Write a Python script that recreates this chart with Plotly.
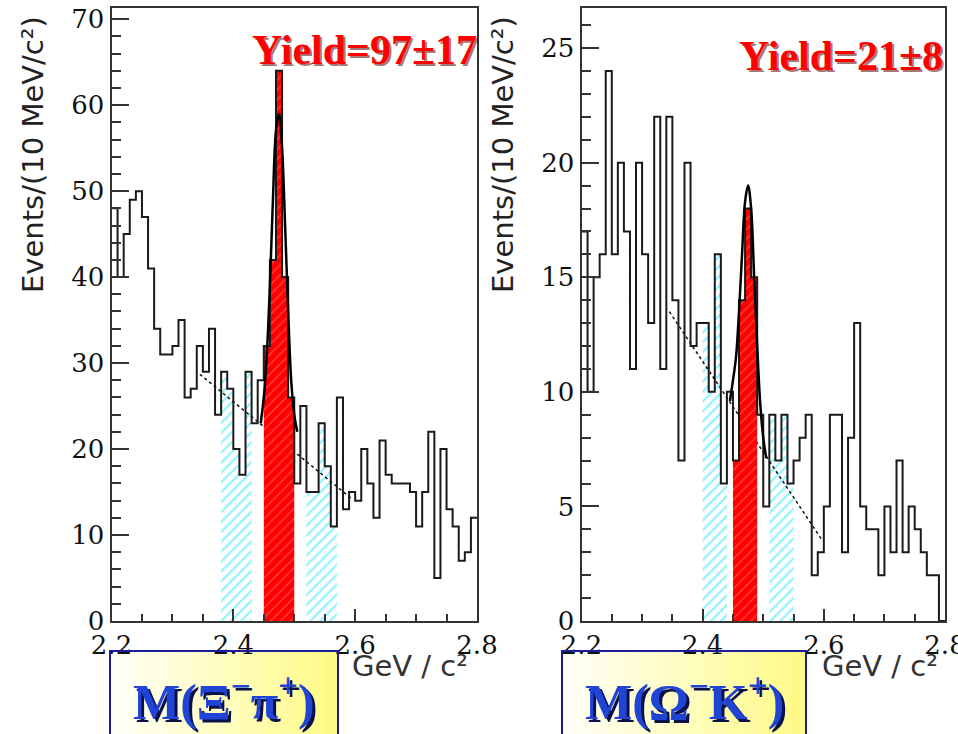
import plotly.graph_objects as go

# ---------------- data (10 MeV bins from 2.20 to 2.80 GeV/c^2) ----------------
BIN_LO = 2.20
BIN_W = 0.01
N_BINS = 60
bin_lo = [round(BIN_LO + i * BIN_W, 4) for i in range(N_BINS)]

xi_pi_counts = [48, 40, 45, 49, 50, 47, 41, 34, 31, 31,
                32, 35, 26, 27, 32, 29, 34, 24, 29, 27,
                20, 17, 29, 23, 28, 32, 42, 64, 40, 26,
                16, 25, 15, 15, 23, 18, 11, 26, 13, 15,
                14, 20, 16, 12, 21, 17, 16, 16, 16, 15,
                11, 15, 22, 5, 20, 13, 11, 7, 8, 12]

omega_k_counts = [17, 10, 15, 16, 24, 16, 20, 17, 11, 20,
                  16, 13, 22, 11, 22, 14, 7, 20, 12, 13,
                  13, 10, 16, 6, 10, 7, 14, 18, 15, 9,
                  5, 9, 7, 9, 6, 7, 8, 9, 2, 3,
                  5, 9, 9, 3, 8, 13, 5, 4, 4, 2,
                  5, 3, 7, 3, 5, 4, 3, 2, 2, 0]

xi_signal = (2.45, 2.50)
xi_sidebands = [(2.38, 2.43), (2.52, 2.57)]
om_signal = (2.45, 2.49)
om_sidebands = [(2.40, 2.44), (2.51, 2.55)]

# fitted background lines (end points)
xi_bkg_x = [2.345, 2.593]
xi_bkg_y = [28.7, 14.3]
om_bkg_x = [2.345, 2.598]
om_bkg_y = [13.5, 3.5]

# fitted peak curves
xi_fit_x = [2.445, 2.450, 2.455, 2.460, 2.465, 2.470, 2.475, 2.480, 2.485, 2.490, 2.495, 2.500, 2.505]
xi_fit_y = [23, 26, 31, 39, 49, 57, 59, 55, 46, 36, 28, 24, 22]
om_fit_x = [2.445, 2.450, 2.455, 2.460, 2.465, 2.470, 2.475, 2.480, 2.485, 2.490, 2.495, 2.500, 2.505]
om_fit_y = [9.6, 10.5, 11.5, 13.5, 16.0, 18.3, 19.0, 18.0, 15.0, 12.0, 9.5, 8.0, 7.1]

yields = ["Yield=97±17", "Yield=21±8"]
box_labels = ["M(Ξ<sup>−</sup>π<sup>+</sup>)", "M(Ω<sup>−</sup>K<sup>+</sup>)"]
y_title = "Events/(10 MeV/c²)"
x_unit = "GeV / c²"

# ---------------- helpers ----------------
W, H = 958, 734


def px(x):
    return x / W


def py(y):
    return 1 - y / H


def step_xy(lo_list, vals):
    xs = list(lo_list) + [round(lo_list[-1] + BIN_W, 4)]
    ys = list(vals) + [vals[-1]]
    return xs, ys


def region(counts, a, b):
    lo, v = [], []
    for x0, c in zip(bin_lo, counts):
        if x0 >= a - 1e-9 and x0 + BIN_W <= b + 1e-9:
            lo.append(x0)
            v.append(c)
    return lo, v


fig = go.Figure()

panels = [
    dict(counts=xi_pi_counts, sig=xi_signal, sbs=xi_sidebands, bx=xi_bkg_x, by=xi_bkg_y,
         fx=xi_fit_x, fy=xi_fit_y, xa="x", ya="y"),
    dict(counts=omega_k_counts, sig=om_signal, sbs=om_sidebands, bx=om_bkg_x, by=om_bkg_y,
         fx=om_fit_x, fy=om_fit_y, xa="x2", ya="y2"),
]

for p in panels:
    for a, b in p["sbs"]:
        lo, v = region(p["counts"], a, b)
        xs, ys = step_xy(lo, v)
        fig.add_trace(go.Scatter(
            x=xs, y=ys, mode="lines", line=dict(width=0, shape="hv"),
            fill="tozeroy", fillcolor="rgba(255,255,255,0)",
            fillpattern=dict(shape="/", fgcolor="#18e4ff", bgcolor="white", size=7, solidity=0.3),
            xaxis=p["xa"], yaxis=p["ya"], showlegend=False, hoverinfo="skip"))
    fig.add_trace(go.Scatter(
        x=p["bx"], y=p["by"], mode="lines", line=dict(color="#111", width=1.5, dash="dot"),
        xaxis=p["xa"], yaxis=p["ya"], showlegend=False, hoverinfo="skip"))
    lo, v = region(p["counts"], *p["sig"])
    xs, ys = step_xy(lo, v)
    fig.add_trace(go.Scatter(
        x=xs, y=ys, mode="lines", line=dict(width=0, shape="hv"),
        fill="tozeroy", fillcolor="#ff0000",
        fillpattern=dict(shape="/", fgcolor="#ff8a8a", bgcolor="#ff0000", size=7, solidity=0.18),
        xaxis=p["xa"], yaxis=p["ya"], showlegend=False, hoverinfo="skip"))
    xs, ys = step_xy(bin_lo, p["counts"])
    fig.add_trace(go.Scatter(
        x=xs, y=ys, mode="lines", line=dict(color="#1a1a1a", width=2, shape="hv"),
        xaxis=p["xa"], yaxis=p["ya"], showlegend=False, hoverinfo="skip"))
    fig.add_trace(go.Scatter(
        x=p["fx"], y=p["fy"], mode="lines", line=dict(color="#000", width=2.5, shape="spline"),
        xaxis=p["xa"], yaxis=p["ya"], showlegend=False, hoverinfo="skip"))

tick_font = dict(family="DejaVu Serif", size=26, color="#111")
x_common = dict(range=[2.2, 2.8], tickmode="array", tickvals=[2.2, 2.4, 2.6, 2.8],
                ticktext=["2.2", "2.4", "2.6", "2.8"], ticks="inside", ticklen=12,
                tickwidth=1.5, tickcolor="#333", ticklabeloverflow="allow",
                minor=dict(ticks="inside", tickmode="linear", tick0=2.2, dtick=0.05,
                           ticklen=7, tickwidth=1.5, tickcolor="#333"),
                showline=True, linecolor="#333", linewidth=2, mirror=True, automargin=False,
                showgrid=False, zeroline=False, tickfont=tick_font, fixedrange=True)
y_common = dict(ticks="inside", tickwidth=1.5, tickcolor="#333", automargin=False,
                showline=True, linecolor="#333", linewidth=2, mirror=True,
                showgrid=False, zeroline=False, tickfont=tick_font, fixedrange=True)

ydom = [py(621), py(8)]
fig.update_layout(
    width=W, height=H, autosize=False, margin=dict(l=0, r=0, t=0, b=0, pad=0, autoexpand=False),
    paper_bgcolor="white", plot_bgcolor="white", showlegend=False,
    xaxis=dict(domain=[px(111.5), px(477)], anchor="y", **x_common),
    yaxis=dict(domain=ydom, anchor="x", range=[0, 71.3], tick0=0, dtick=10, ticklen=17,
               minor=dict(ticks="inside", dtick=2, ticklen=9, tickwidth=1.5, tickcolor="#333"),
               **y_common),
    xaxis2=dict(domain=[px(581.5), px(945)], anchor="y2", **x_common),
    yaxis2=dict(domain=ydom, anchor="x2", range=[0, 26.75], tick0=0, dtick=5, ticklen=17,
                minor=dict(ticks="inside", dtick=1, ticklen=9, tickwidth=1.5, tickcolor="#333"),
                **y_common),
)

annotations = []
shapes = []

# y-axis titles
for cx in (33, 503):
    annotations.append(dict(x=px(cx), y=py(155), xref="paper", yref="paper", text=y_title,
                            textangle=-90, showarrow=False, xanchor="center", yanchor="middle",
                            font=dict(family="DejaVu Sans", size=29, color="#222")))
# x unit labels
for cx in (410, 880):
    annotations.append(dict(x=px(cx), y=py(666), xref="paper", yref="paper", text=x_unit,
                            showarrow=False, xanchor="center", yanchor="middle",
                            font=dict(family="DejaVu Sans", size=29, color="#333")))

# yield labels with shadow
for (cx, cy), txt in zip([(364, 50), (841, 56)], yields):
    for dx, col in ((2, "rgba(90,0,0,0.55)"), (0, "#ff0000")):
        annotations.append(dict(x=px(cx + dx), y=py(cy + dx), xref="paper", yref="paper",
                                text=f"<b>{txt}</b>", showarrow=False,
                                xanchor="center", yanchor="middle",
                                font=dict(family="Liberation Serif", size=42, color=col)))

# label boxes with a soft gradient
boxes = [(110, 338), (562, 806)]
n_strips = 16
for (x0, x1), txt in zip(boxes, box_labels):
    for i in range(n_strips):
        t = i / (n_strips - 1)
        r, g, b = 255, 255 - int(5 * t), 246 - int(110 * t)
        sx0 = x0 + (x1 - x0) * i / n_strips
        sx1 = x0 + (x1 - x0) * (i + 1) / n_strips + 0.5
        shapes.append(dict(type="rect", xref="paper", yref="paper",
                           x0=px(sx0), x1=px(sx1), y0=py(651), y1=py(740),
                           line=dict(width=0), fillcolor=f"rgb({r},{g},{b})", layer="below"))
    shapes.append(dict(type="rect", xref="paper", yref="paper",
                       x0=px(x0), x1=px(x1), y0=py(651), y1=py(740),
                       line=dict(color="#1c1c9a", width=2), fillcolor="rgba(0,0,0,0)"))
    cx = (x0 + x1) / 2
    for d, col in ((3, "#0a1048"), (0, "#1f44d6")):
        annotations.append(dict(x=px(cx + d), y=py(698 + d), xref="paper", yref="paper",
                                text=f"<b>{txt}</b>", showarrow=False,
                                xanchor="center", yanchor="middle",
                                font=dict(family="Liberation Serif", size=50, color=col)))

fig.update_layout(annotations=annotations, shapes=shapes)
fig.write_html(
    "out.html",
    config={"displayModeBar": False},
    post_script="document.body.style.margin='0';document.body.style.padding='0';"
                "document.body.style.overflow='hidden';",
)
